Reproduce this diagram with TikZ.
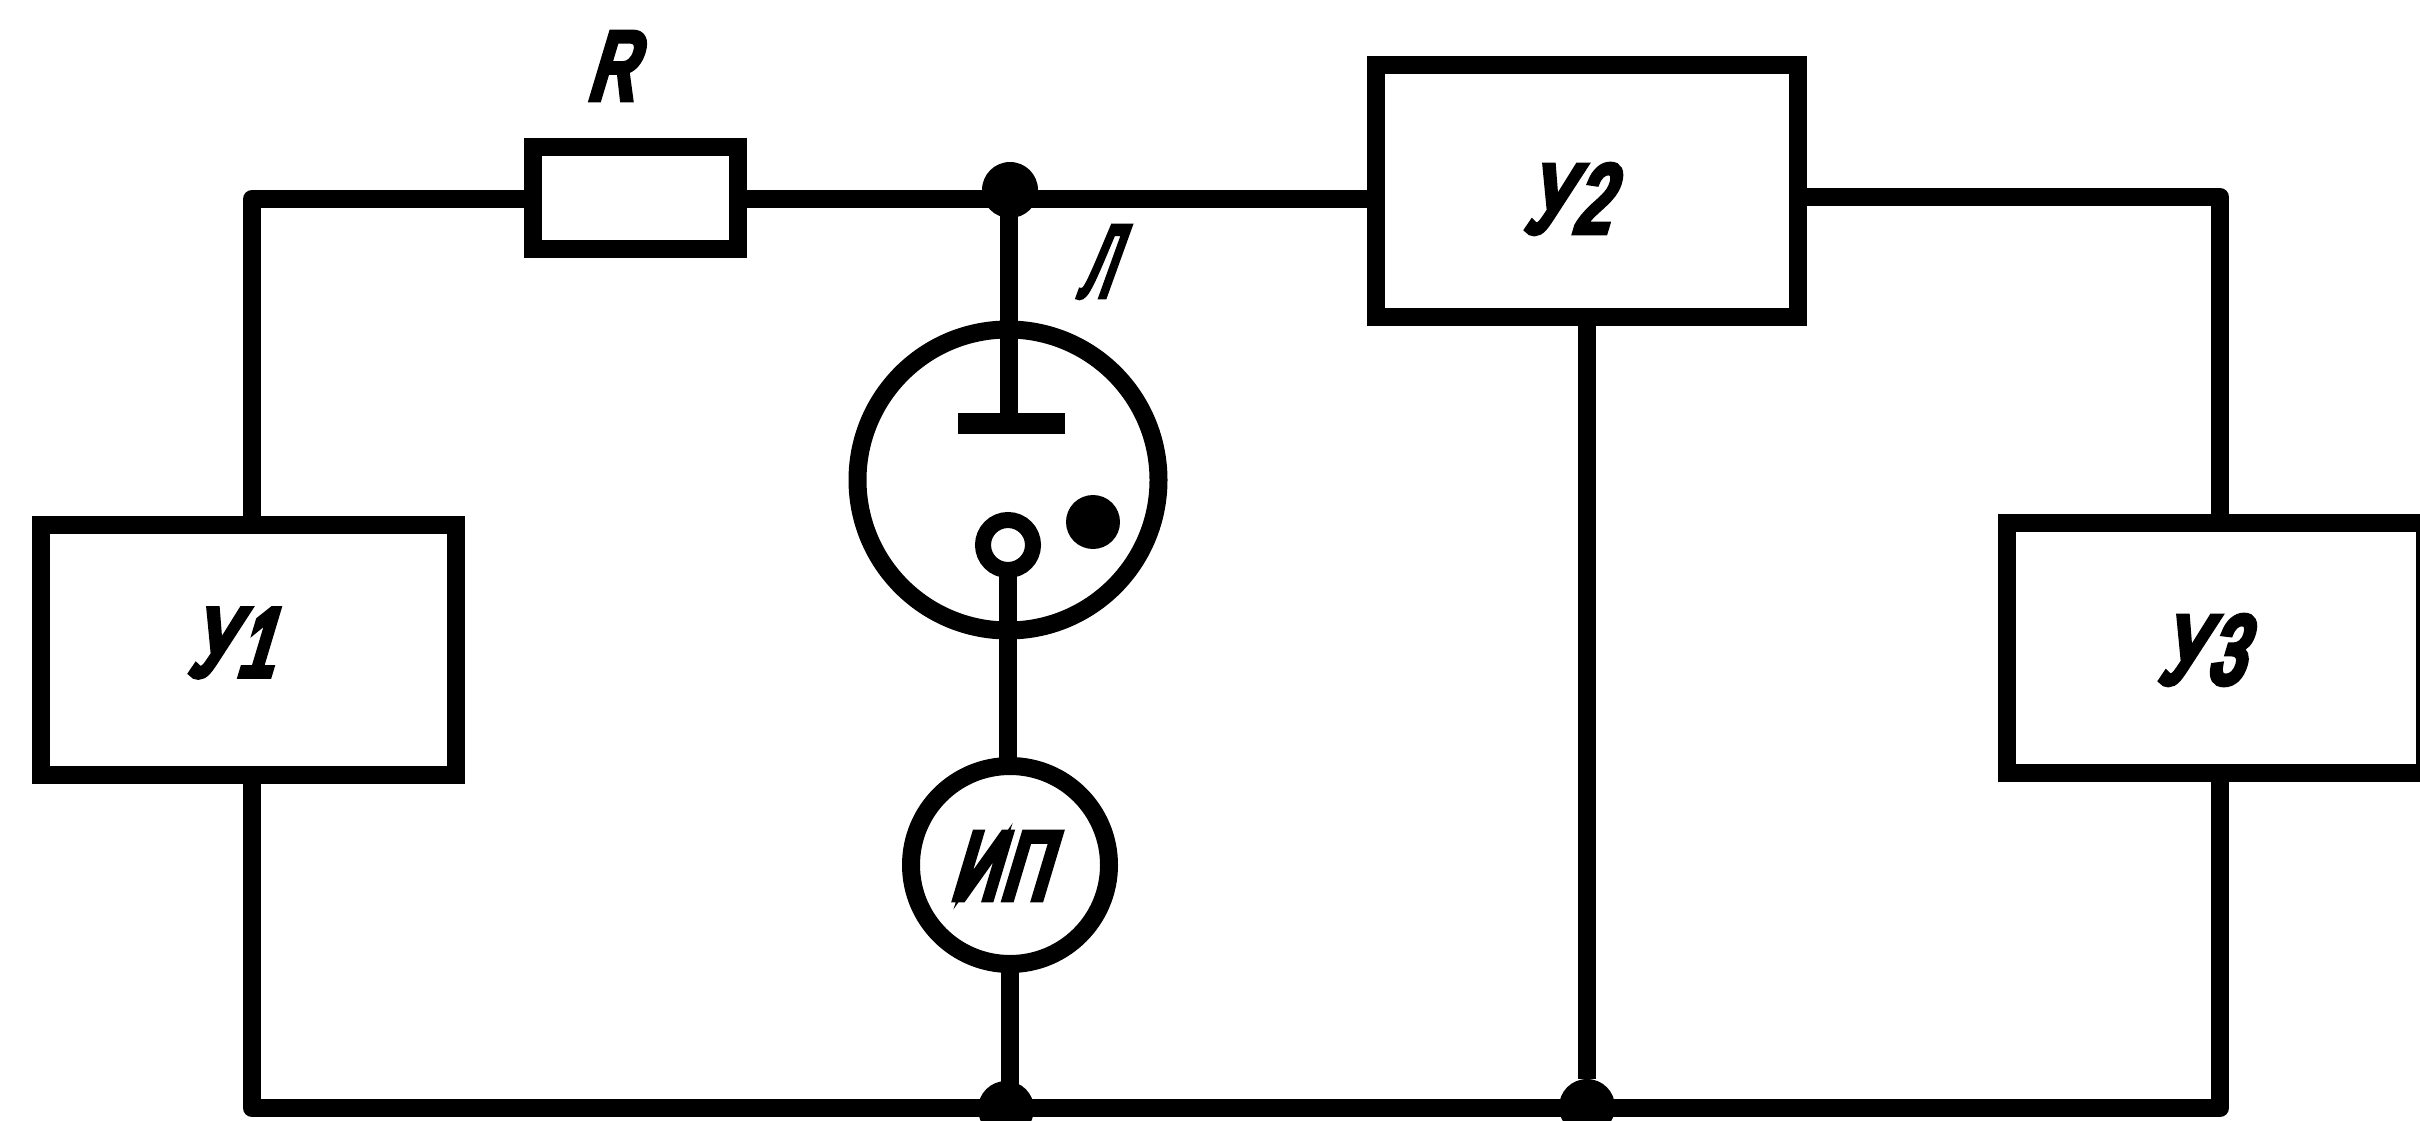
\documentclass[tikz,border=0pt]{standalone}
\usepackage{fontspec}
\setmainfont{Liberation Sans}
\newfontfamily\labfont[FakeSlant=0.3,FakeStretch=0.66,FakeBold=7]{Liberation Sans}
\newfontfamily\thinfont[FakeSlant=0.36,FakeStretch=0.46,FakeBold=4]{Liberation Sans}
\begin{document}
\begin{tikzpicture}[x=1pt,y=-1pt,
  wire/.style={line width=18pt,line join=round},
  boxn/.style={draw,line width=18pt,inner sep=0pt},
  ringn/.style={draw,circle,line width=18pt,inner sep=0pt},
  dotn/.style={circle,fill,inner sep=0pt,minimum size=56pt},
  lab/.style={inner sep=0pt,font=\fontsize{96}{100}\labfont}]
\useasboundingbox (0,0) rectangle (2420,1121);
\node[boxn,minimum width=415pt,minimum height=250pt] (u1) at (248.5,650) {};
\node[boxn,minimum width=418pt,minimum height=250pt] (u3) at (2216,648) {};
\node[boxn,minimum width=422pt,minimum height=252pt] (u2) at (1586.5,191) {};
\node[boxn,minimum width=205pt,minimum height=102pt] (r) at (635.5,198) {};
\node[ringn,minimum size=301pt] (l) at (1008,480) {};
\node[ringn,minimum size=198pt] (ip) at (1010,865) {};
\node[ringn,line width=16pt,minimum size=50pt] (cath) at (1008,545) {};
\node[dotn,minimum size=54pt] (spot) at (1093,522) {};
\node[dotn] (j1) at (1010,190) {};
\node[dotn] (j2) at (1006,1109) {};
\node[dotn] (j3) at (1587,1107) {};
\coordinate (tl) at (252,199);
\coordinate (bl) at (252,1108);
\coordinate (tr) at (2220,197);
\coordinate (br) at (2220,1108);
\coordinate (an) at (1009,423);
\coordinate (anL) at (958,423);
\coordinate (anR) at (1065,423);
\draw[wire] ([yshift=-4pt]u1.north -| tl) -- (tl) -- ([xshift=4pt]r.west |- tl);
\draw[wire] ([xshift=-4pt]r.east |- tl) -- (tl -| j1) -- ([xshift=4pt]u2.west |- tl);
\draw[wire] ([xshift=-4pt]u2.east |- tr) -- (tr) -- ([yshift=-4pt]u3.north -| tr);
\draw[wire] (an |- j1) -- (an);
\draw[line width=21pt] (anL) -- (anR);
\draw[wire] ([yshift=4pt]cath.south) -- ([yshift=-4pt]cath.south |- ip.north);
\draw[wire] ([yshift=4pt]ip.south) -- (ip.south |- j2);
\draw[wire] ([yshift=4pt]u1.south -| bl) -- (bl) -- (br) -- ([yshift=4pt]u3.south -| br);
\draw[wire] ([yshift=4pt]u2.south -| j3) -- (j3);
\node[lab] (tr1) at (610,66) {R};
\node[lab] (t1) at (230,643) {У\kern8pt 1};
\node[lab] (t2) at (1566,199) {У\kern8pt 2};
\node[lab] (t3) at (2200,650) {У\kern8pt 3};
\node[inner sep=0pt,font=\fontsize{104}{108}\thinfont] (tl1) at (1093,262) {Л};
\node[lab] (tip) at (998,866) {И\kern4pt П};
\end{tikzpicture}
\end{document}
